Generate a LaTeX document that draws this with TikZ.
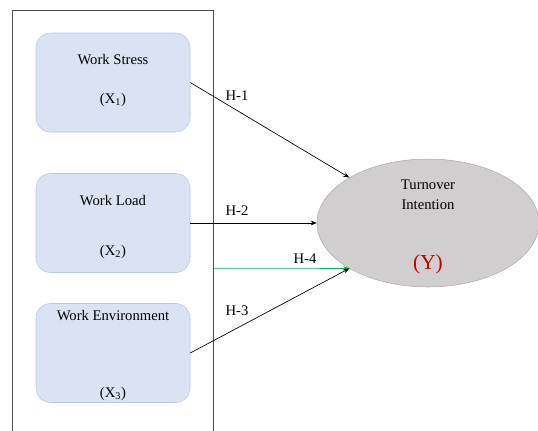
\documentclass[tikz,border=0pt]{standalone}
\usepackage{fontspec}
\setmainfont{Liberation Serif}
\usetikzlibrary{shapes.geometric,arrows.meta}
\definecolor{boxfill}{HTML}{DAE3F3}
\definecolor{boxline}{HTML}{B4C7E7}
\definecolor{ellfill}{HTML}{D0CECE}
\definecolor{ellline}{HTML}{AFABAB}
\definecolor{ygreen}{HTML}{00B050}
\definecolor{yred}{HTML}{C00000}
\tikzset{
  varbox/.style={draw=boxline, fill=boxfill, rounded corners=11pt, minimum width=115.5pt, minimum height=74.25pt, inner sep=0pt},
  txt/.style={font=\fontsize{11}{13}\selectfont, inner sep=0pt, text=black},
  hyp/.style={font=\fontsize{11}{13}\selectfont, inner sep=0pt},
  arr/.style={-{Stealth[length=4.5pt,width=3.5pt]}, line width=0.5pt},
}
\begin{document}
\begin{tikzpicture}[x=0.75pt,y=-0.75pt]
\useasboundingbox (0,0) rectangle (538,430);
% outer frame
\draw[black!70, line width=0.6pt] (12,432) -- (12,10) -- (213,10) -- (213,432);
% boxes
\node[varbox] (b1) at (113,82.5) {};
\node[varbox] (b2) at (113,223) {};
\node[varbox] (b3) at (113,353) {};
\node[txt] (t1) at (113,60) {Work Stress};
\node[txt] (s1) at (113,100) {(X\textsubscript{1})};
\node[txt] (t2) at (113,201) {Work Load};
\node[txt] (s2) at (113,252) {(X\textsubscript{2})};
\node[txt] (t3) at (113,316) {Work Environment};
\node[txt] (s3) at (113,394) {(X\textsubscript{3})};
% ellipse
\node[ellipse, draw=ellline, fill=ellfill, minimum width=166.5pt, minimum height=96pt, inner sep=0pt] (y) at (428,223) {};
\node[txt, align=center, font=\fontsize{11}{15}\selectfont] (yt) at (428,195) {Turnover\\Intention};
\node[inner sep=0pt, text=yred, font=\fontsize{16}{18}\selectfont] (yy) at (428,264) {(Y)};
% arrows
\coordinate (g4) at (213,268.3);
\draw[arr] (b1.east) -- (y.150);
\draw[arr] (b2.east) -- (y.west);
\draw[arr, draw=ygreen] (g4) -- (y.210);
\draw[arr] (b3.east) -- (y.210);
% labels
\node[hyp] (h1) at (237,96) {H-1};
\node[hyp] (h2) at (237,211) {H-2};
\node[hyp] (h4) at (305,259) {H-4};
\node[hyp] (h3) at (237,311) {H-3};
\end{tikzpicture}
\end{document}
